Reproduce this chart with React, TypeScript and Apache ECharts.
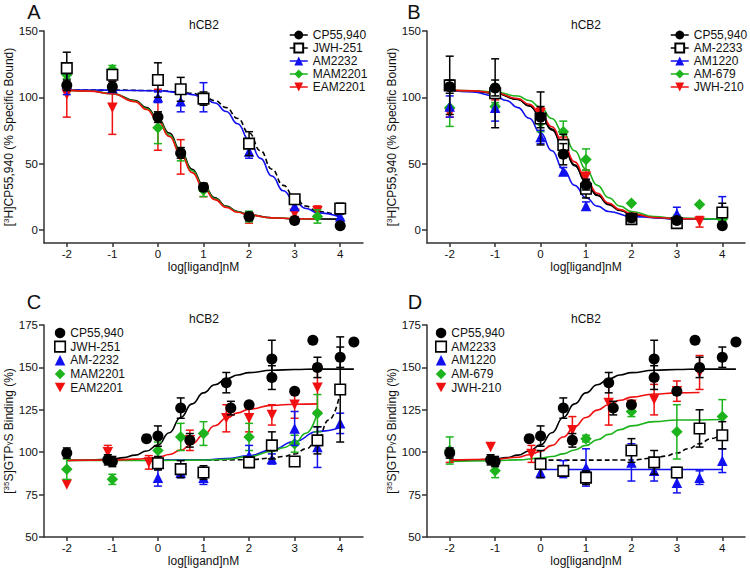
import { useEffect, useRef } from 'react';
import * as echarts from 'echarts';

// ---------- tick labels / texts ----------
const xTickValues = [-2, -1, 0, 1, 2, 3, 4];
const bindTickValues = [0, 50, 100, 150];
const gtpTickValues = [50, 75, 100, 125, 150, 175];
const panelLetters = ['A', 'B', 'C', 'D'];
const panelTitle = 'hCB2';
const xAxisTitle = 'log[ligand]nM';

// ---------- Panel A : [log conc, mean, SEM] ----------
const A_CP55940 = [[-2, 109, 4], [-1, 108, 4], [0, 85, 4], [0.5, 58, 4], [1, 32, 3], [2, 10, 3], [3, 7, 2], [4, 3, 0]];
const A_JWH251 = [[-2, 122, 12], [-1, 117, 3], [0, 113, 13], [0.5, 106, 9], [1, 99, 5], [2, 65, 9], [3, 23, 3], [4, 16, 4]];
const A_AM2232 = [[-2, 110, 8], [-1, 107, 3], [0, 100, 4], [0.5, 97, 8], [1, 100, 11], [2, 59, 5], [3, 18, 3], [4, 10, 2]];
const A_MAM2201 = [[-2, 117, 3], [-1, 121, 3], [0, 77, 12], [0.5, 57, 5], [1, 30, 5], [2, 10, 4], [3.5, 10, 5]];
const A_EAM2201 = [[-2, 102, 17], [-1, 92, 20], [0, 83, 23], [0.5, 55, 13], [1, 30, 5], [2, 9, 4], [3, 12, 2], [3.5, 14, 4]];
// fitted curves
const A_fitCP55940 = [[-2, 105.4], [-1.5, 104.8], [-1, 102.8], [-0.5, 97.5], [-0.25, 92.2], [0, 84.1], [0.25, 73], [0.5, 59.6], [0.75, 45.7], [1, 33.5], [1.25, 24.2], [1.5, 17.8], [1.75, 13.8], [2, 11.3], [2.5, 9.1], [3, 8.3], [4, 8]];
const A_fitJWH251 = [[-2, 105.5], [-1, 105.4], [0, 105], [0.5, 104], [0.75, 103], [1, 100.9], [1.25, 97.5], [1.5, 92.2], [1.75, 84], [2, 73], [2.25, 59.6], [2.5, 45.7], [2.75, 33.5], [3, 24.2], [3.25, 17.8], [3.5, 13.8], [4, 9.9]];
const A_fitAM2232 = [[-2, 105.5], [-1, 105.4], [0, 104.9], [0.5, 103.6], [0.75, 102], [1, 99.7], [1.25, 95.7], [1.5, 89.3], [1.75, 80], [2, 67.8], [2.25, 53.9], [2.5, 40.6], [2.75, 29.4], [3, 21.3], [3.25, 16], [3.5, 12.7], [4, 9.5]];
const A_fitMAM2201 = [[-2, 105.4], [-1.5, 104.7], [-1, 102.7], [-0.5, 97], [-0.25, 91.5], [0, 83], [0.25, 71.5], [0.5, 58], [0.75, 44.5], [1, 32.5], [1.25, 23.4], [1.5, 17.3], [1.75, 13.5], [2, 11.1], [2.5, 9], [3, 8.3], [3.5, 8.1]];
const A_fitEAM2201 = [[-2, 105.4], [-1.5, 104.6], [-1, 102.6], [-0.5, 96.6], [-0.25, 90.8], [0, 82.1], [0.25, 70.4], [0.5, 56.8], [0.75, 43.1], [1, 31.4], [1.25, 22.7], [1.5, 16.9], [1.75, 13.2], [2, 11], [2.5, 9], [3, 8.3], [3.5, 8.1]];

// ---------- Panel B ----------
const B_CP55940 = [[-2, 108, 5], [-1, 107, 6], [0, 85, 8], [0.5, 57, 8], [1, 34, 4], [2, 9, 3], [3, 7, 2], [4, 3, 0]];
const B_AM2233 = [[-2, 109, 22], [-1, 103, 26], [0, 84, 20], [0.5, 64, 8], [1, 31, 7], [2, 8, 3], [3, 5, 2], [4, 13, 7]];
const B_AM1220 = [[-2, 93, 8], [-1, 92, 10], [0, 70, 5], [0.5, 44, 3], [1, 18, 3], [2, 8, 3], [3, 12, 5], [4, 15, 10]];
const B_AM679 = [[-2, 92, 14], [-1, 93, 3], [0, 81, 7], [0.5, 74, 8], [1, 53, 8], [2, 20, 0], [3, 9, 2], [3.5, 19, 0], [4, 8, 0]];
const B_JWH210 = [[-2, 88, 3], [-1, 101, 3], [0, 88, 4], [0.5, 65, 5], [1, 40, 5], [2, 9, 2], [3, 6, 2], [3.5, 6, 4]];
const B_fitCP55940 = [[-2, 105.3], [-1.5, 104.6], [-1, 103.1], [-0.5, 98.4], [-0.25, 93.4], [0, 85.9], [0.25, 75.4], [0.5, 62.3], [0.75, 48.4], [1, 35.8], [1.25, 25.8], [1.5, 18.9], [1.75, 14.5], [2, 11.7], [2.5, 9.2], [3, 8.4], [4, 8]];
const B_fitAM2233 = [[-2, 105.3], [-1.5, 104.6], [-1, 103.2], [-0.5, 98.6], [-0.25, 93.6], [0, 86.4], [0.25, 76], [0.5, 63], [0.75, 49], [1, 36.3], [1.25, 26.2], [1.5, 19.2], [1.75, 14.7], [2, 11.8], [2.5, 9.2], [3, 8.4], [4, 8]];
const B_fitAM1220 = [[-2, 105.3], [-1.5, 104], [-1, 100.9], [-0.75, 97.5], [-0.5, 92.2], [-0.25, 84.1], [0, 73], [0.25, 59.6], [0.5, 45.7], [0.75, 33.5], [1, 24.2], [1.25, 17.8], [1.5, 13.8], [2, 9.9], [3, 8.2], [4, 8]];
const B_fitAM679 = [[-2, 105.4], [-1.5, 104.9], [-1, 104], [-0.5, 100.9], [-0.25, 97.5], [0, 92.2], [0.25, 84], [0.5, 73], [0.75, 59.6], [1, 45.7], [1.25, 33.5], [1.5, 24.2], [1.75, 17.8], [2, 13.8], [2.5, 9.9], [3, 8.6], [4, 8]];
const B_fitJWH210 = [[-2, 105.4], [-1.5, 104.8], [-1, 103.4], [-0.5, 99], [-0.25, 94.6], [0, 87.7], [0.25, 77.7], [0.5, 65.1], [0.75, 51.2], [1, 38.1], [1.25, 27.6], [1.5, 20.1], [1.75, 15.2], [2, 12.2], [2.5, 9.3], [3, 8.4], [3.5, 8.1]];

// ---------- Panel C ----------
const CD_CP55940 = [[-2, 99.5, 3], [-1.1, 95.5, 3], [-1, 94.5, 3], [-0.25, 108, 0], [0, 109.5, 6], [0.5, 126, 6], [0.7, 107, 4], [1.5, 141, 6], [1.6, 126, 4], [2, 128, 0], [2.5, 155, 11], [2.5, 144, 7], [3, 136, 0], [3.4, 166, 0], [3.5, 150, 6], [4, 156, 6], [4.3, 165, 0]];
const C_JWH251 = [[0, 93.5, 4], [0.5, 90, 5], [1, 88, 4], [2, 94, 3], [2.5, 104, 8], [3, 94.5, 0], [3.5, 107, 8], [4, 137, 31]];
const C_AM2232 = [[0, 85, 5], [0.5, 88, 3], [1, 85, 4], [2, 98, 6], [2.5, 96, 3], [3, 114, 10], [3.5, 103, 12], [4, 117, 6]];
const C_MAM2201 = [[-2, 90, 6], [-1, 84, 3], [0, 101, 5], [0.5, 109, 8], [1, 111, 7], [2, 109, 8], [3, 105, 5], [3.5, 123, 11]];
const C_EAM2201 = [[-2, 81, 0], [-1.1, 100, 4], [-0.2, 94, 4], [0.7, 107, 6], [1.5, 120, 8], [2, 120, 8], [2.5, 122, 6], [3, 128, 8], [3.5, 138, 14]];
const CD_fitCP55940 = [[-2, 95.2], [-1.5, 95.4], [-1, 95.9], [-0.75, 96.8], [-0.5, 98.3], [-0.25, 100.7], [0, 104.3], [0.25, 111.5], [0.5, 120.5], [0.75, 128.5], [1, 135], [1.25, 139.8], [1.5, 143.2], [1.75, 145.5], [2, 146.9], [2.5, 148.3], [3, 148.8], [3.5, 149], [4.3, 149]];
const C_fitJWH251 = [[0, 95.3], [1, 95.3], [2, 95.6], [2.5, 96.5], [2.75, 97.5], [3, 98.9], [3.25, 102], [3.5, 107.3], [3.75, 119], [4, 135]];
const C_fitAM2232 = [[0, 95.3], [1, 95.5], [1.5, 96.2], [2, 97.9], [2.5, 101.4], [3, 106.3], [3.5, 112.2], [4, 114.5]];
const C_fitMAM2201 = [[-2, 95.2], [0, 95.2], [1, 95.3], [1.5, 95.8], [2, 97.4], [2.5, 100.4], [2.75, 102.6], [3, 105.3], [3.25, 111.2], [3.5, 123.4]];
const C_fitEAM2201 = [[-2, 95.2], [-1, 95.4], [-0.5, 95.9], [0, 96.9], [0.25, 98.6], [0.5, 101.2], [0.75, 105], [1, 110.2], [1.25, 115.6], [1.5, 120], [1.75, 123.2], [2, 125.4], [2.5, 127.6], [3, 128.3], [3.5, 128.5]];

// ---------- Panel D ----------
const D_AM2233 = [[0, 93, 8], [0.5, 89, 3], [1, 85, 4], [2, 101, 7], [2.5, 94, 7], [3, 88, 3], [3.5, 114, 11], [4, 110, 8]];
const D_AM1220 = [[0, 88, 3], [0.5, 90, 5], [1, 91, 11], [2, 94, 11], [2.5, 89, 6], [3, 82, 6], [3.5, 85, 4], [4, 95, 7]];
const D_AM679 = [[-2, 101, 8], [-1, 89, 4], [1, 108, 2], [2, 124, 3], [3, 112, 16], [4, 121, 10]];
const D_JWH210 = [[-2, 98, 4], [-1.1, 103, 0], [-0.2, 99, 5], [0.7, 113, 8], [1.5, 129, 13], [2, 128, 0], [2.5, 131, 9], [3, 136, 6], [3.5, 147, 10]];
const D_fitAM2233 = [[0, 95.3], [1, 95.3], [2, 95.4], [2.5, 96.5], [2.75, 97.7], [3, 99.5], [3.25, 102], [3.5, 105], [3.75, 108], [4, 111]];
const D_fitAM1220 = [[0, 89.8], [4, 89.8]];
const D_fitAM679 = [[-2, 94.5], [-1, 95], [-0.5, 95.5], [0, 96.5], [0.25, 97.5], [0.5, 99], [0.75, 101.3], [1, 104], [1.25, 107.3], [1.5, 110.5], [1.75, 113.3], [2, 115.5], [2.5, 118], [3, 119], [4, 119.3]];
const D_fitJWH210 = [[-2, 95.3], [-1, 95.8], [-0.5, 97], [-0.25, 98.5], [0, 100.5], [0.25, 104], [0.5, 109], [0.75, 115], [1, 120.5], [1.25, 124.8], [1.5, 128], [1.75, 130.6], [2, 132.5], [2.5, 134.3], [3, 135], [3.5, 135.2]];

// ---------- styles ----------
const FONT = '"Liberation Sans", Arial, sans-serif';
const TXT = '#111';
const AX = '#333';
const BLACK = '#000000';
const BLUE = '#1010f0';
const GREEN = '#1cb31c';
const RED = '#f01010';
const INV_TRI = 'path://M0,0L10,0L5,9Z';

type St = { color: string; symbol: string; size: number; hollow?: boolean; dashed?: boolean };
const sCircle: St = { color: BLACK, symbol: 'circle', size: 11 };
const sSquare: St = { color: BLACK, symbol: 'rect', size: 10.5, hollow: true, dashed: true };
const sTri: St = { color: BLUE, symbol: 'triangle', size: 10.5 };
const sDia: St = { color: GREEN, symbol: 'diamond', size: 11.5 };
const sInv: St = { color: RED, symbol: INV_TRI, size: 10.5 };

const grids = [
  { left: 44, top: 31, width: 319, height: 212 },
  { left: 427, top: 31, width: 318, height: 212 },
  { left: 44, top: 325, width: 319, height: 212 },
  { left: 427, top: 325, width: 318, height: 212 },
];

type Entry = { name: string; pts: number[][]; fit: number[][]; st: St; fitSolid?: boolean };
const panels: { entries: Entry[]; binding: boolean }[] = [
  {
    binding: true,
    entries: [
      { name: 'CP55,940', pts: A_CP55940, fit: A_fitCP55940, st: sCircle },
      { name: 'JWH-251', pts: A_JWH251, fit: A_fitJWH251, st: sSquare },
      { name: 'AM2232', pts: A_AM2232, fit: A_fitAM2232, st: sTri },
      { name: 'MAM2201', pts: A_MAM2201, fit: A_fitMAM2201, st: sDia },
      { name: 'EAM2201', pts: A_EAM2201, fit: A_fitEAM2201, st: sInv },
    ],
  },
  {
    binding: true,
    entries: [
      { name: 'CP55,940', pts: B_CP55940, fit: B_fitCP55940, st: sCircle },
      { name: 'AM-2233', pts: B_AM2233, fit: B_fitAM2233, st: sSquare, fitSolid: true },
      { name: 'AM1220', pts: B_AM1220, fit: B_fitAM1220, st: sTri },
      { name: 'AM-679', pts: B_AM679, fit: B_fitAM679, st: sDia },
      { name: 'JWH-210', pts: B_JWH210, fit: B_fitJWH210, st: sInv },
    ],
  },
  {
    binding: false,
    entries: [
      { name: 'CP55,940', pts: CD_CP55940, fit: CD_fitCP55940, st: sCircle },
      { name: 'JWH-251', pts: C_JWH251, fit: C_fitJWH251, st: sSquare },
      { name: 'AM-2232', pts: C_AM2232, fit: C_fitAM2232, st: sTri },
      { name: 'MAM2201', pts: C_MAM2201, fit: C_fitMAM2201, st: sDia },
      { name: 'EAM2201', pts: C_EAM2201, fit: C_fitEAM2201, st: sInv },
    ],
  },
  {
    binding: false,
    entries: [
      { name: 'CP55,940', pts: CD_CP55940, fit: CD_fitCP55940, st: sCircle },
      { name: 'AM2233', pts: D_AM2233, fit: D_fitAM2233, st: sSquare },
      { name: 'AM1220', pts: D_AM1220, fit: D_fitAM1220, st: sTri },
      { name: 'AM-679', pts: D_AM679, fit: D_fitAM679, st: sDia },
      { name: 'JWH-210', pts: D_JWH210, fit: D_fitJWH210, st: sInv },
    ],
  },
];

function itemStyleOf(st: St) {
  return st.hollow
    ? { color: '#ffffff', borderColor: st.color, borderWidth: 1.6, opacity: 1 }
    : { color: st.color, borderWidth: 0, opacity: 1 };
}

function buildOption() {
  const series: any[] = [];
  panels.forEach((p, pi) => {
    const n = p.entries.length;
    p.entries.forEach((e, ei) => {
      const zBase = 2 + (n - ei) * 3;
      // fitted curve
      series.push({
        type: 'line', xAxisIndex: pi, yAxisIndex: pi, silent: true,
        data: e.fit, smooth: 0.5, smoothMonotone: 'x', symbol: 'none',
        lineStyle: { color: e.st.color, width: 1.6, type: e.st.dashed && !e.fitSolid ? [5, 3] : 'solid' },
        z: 2,
      });
      // error bars
      const color = e.st.color;
      series.push({
        type: 'custom', xAxisIndex: pi, yAxisIndex: pi, silent: true, z: zBase,
        data: e.pts.filter((d) => d[2] > 0),
        encode: { x: 0, y: 1 },
        renderItem: (_params: any, api: any) => {
          const x = api.value(0), m = api.value(1), s = api.value(2);
          const top = api.coord([x, m + s]);
          const bot = api.coord([x, m - s]);
          const w = 4;
          const style = { stroke: color, lineWidth: 1.5, fill: 'none' };
          return {
            type: 'group',
            children: [
              { type: 'line', shape: { x1: top[0], y1: top[1], x2: bot[0], y2: bot[1] }, style },
              { type: 'line', shape: { x1: top[0] - w, y1: top[1], x2: top[0] + w, y2: top[1] }, style },
              { type: 'line', shape: { x1: bot[0] - w, y1: bot[1], x2: bot[0] + w, y2: bot[1] }, style },
            ],
          };
        },
      });
      // points
      const base: any = {
        name: e.name, xAxisIndex: pi, yAxisIndex: pi, silent: true, z: zBase + 1,
        data: e.pts.map((d) => [d[0], d[1]]),
        symbol: e.st.symbol, symbolSize: e.st.size,
        itemStyle: itemStyleOf(e.st),
      };
      if (p.binding) {
        series.push({ ...base, type: 'line', showSymbol: true, showAllSymbol: true, lineStyle: { width: 0, color: e.st.color } });
      } else {
        series.push({ ...base, type: 'scatter' });
      }
    });
  });

  const legendPos = [
    { left: 289, top: 29, gap: 1 },
    { left: 670, top: 29, gap: 1 },
    { left: 54, top: 327, gap: 1.6 },
    { left: 435, top: 327, gap: 1.6 },
  ];
  const legends = panels.map((p, pi) => {
    const lp = legendPos[pi];
    const common: any = {
      orient: 'vertical', left: lp.left, top: lp.top, padding: 0, itemGap: lp.gap,
      selectedMode: false,
      textStyle: { fontSize: 12, color: TXT, fontFamily: FONT },
    };
    if (p.binding) {
      return {
        ...common, itemWidth: 18, itemHeight: 11,
        lineStyle: { width: 1.5, opacity: 1 },
        data: p.entries.map((e) => e.name),
      };
    }
    return {
      ...common, itemWidth: 10.5, itemHeight: 10.5,
      data: p.entries.map((e) => ({ name: e.name, icon: e.st.symbol, itemStyle: itemStyleOf(e.st) })),
    };
  });

  const nameStyle = {
    fontSize: 12, color: TXT, fontFamily: FONT,
    rich: {
      sup: { fontSize: 8, verticalAlign: 'top', color: TXT, fontFamily: FONT },
      g: { fontSize: 8, color: TXT, fontFamily: FONT },
    },
  };

  const xAxis = grids.map((_, i) => ({
    gridIndex: i, type: 'value', min: -2.5, max: 4.5,
    axisLine: { show: true, onZero: false, lineStyle: { color: AX, width: 1.5 } },
    axisTick: { show: true, customValues: xTickValues, length: 4, lineStyle: { color: AX, width: 1.5 } },
    axisLabel: { customValues: xTickValues, margin: 5, fontSize: 11.5, color: TXT, fontFamily: FONT },
    splitLine: { show: false },
    name: xAxisTitle, nameLocation: 'middle', nameGap: 18,
    nameTextStyle: { fontSize: 12, color: TXT, fontFamily: FONT },
  }));
  const yAxis = grids.map((_, i) => {
    const binding = panels[i].binding;
    const ticks = binding ? bindTickValues : gtpTickValues;
    return {
      gridIndex: i, type: 'value', min: binding ? -10 : 50, max: binding ? 150 : 175,
      axisLine: { show: true, onZero: false, lineStyle: { color: AX, width: 1.5 } },
      axisTick: { show: true, customValues: ticks, length: 5, lineStyle: { color: AX, width: 1.5 } },
      axisLabel: { customValues: ticks, margin: 6, fontSize: 11.5, color: TXT, fontFamily: FONT },
      splitLine: { show: false },
      name: binding ? '[{sup|3}H]CP55,940 (% Specific Bound)' : '[{sup|35}S]GTP{g|γ}S Binding (%)',
      nameLocation: 'middle', nameGap: 26, nameRotate: 90,
      nameTextStyle: nameStyle,
    };
  });

  const letterPos = [[34, 12], [414, 12], [34, 302], [415, 302]];
  const titlePos = [[204, 25], [586, 25], [204, 319], [586, 319]];
  const graphic: any[] = [];
  panelLetters.forEach((l, i) => {
    graphic.push({
      type: 'text', x: letterPos[i][0], y: letterPos[i][1], silent: true,
      style: { text: l, fontSize: 20, fontFamily: FONT, fill: TXT, textAlign: 'center', textVerticalAlign: 'middle' },
    });
    graphic.push({
      type: 'text', x: titlePos[i][0], y: titlePos[i][1], silent: true,
      style: { text: panelTitle, fontSize: 12, fontFamily: FONT, fill: TXT, textAlign: 'center', textVerticalAlign: 'middle' },
    });
  });

  return {
    animation: false,
    backgroundColor: '#ffffff',
    textStyle: { fontFamily: FONT },
    grid: grids,
    xAxis, yAxis,
    legend: legends,
    graphic,
    series,
  };
}

export default function App() {
  const ref = useRef<HTMLDivElement>(null);
  useEffect(() => {
    if (!ref.current) return;
    const chart = echarts.init(ref.current, undefined, { renderer: 'svg' });
    chart.setOption(buildOption() as any);
    return () => chart.dispose();
  }, []);
  return <div ref={ref} style={{ position: 'absolute', left: 0, top: 0, width: 750, height: 572 }} />;
}
